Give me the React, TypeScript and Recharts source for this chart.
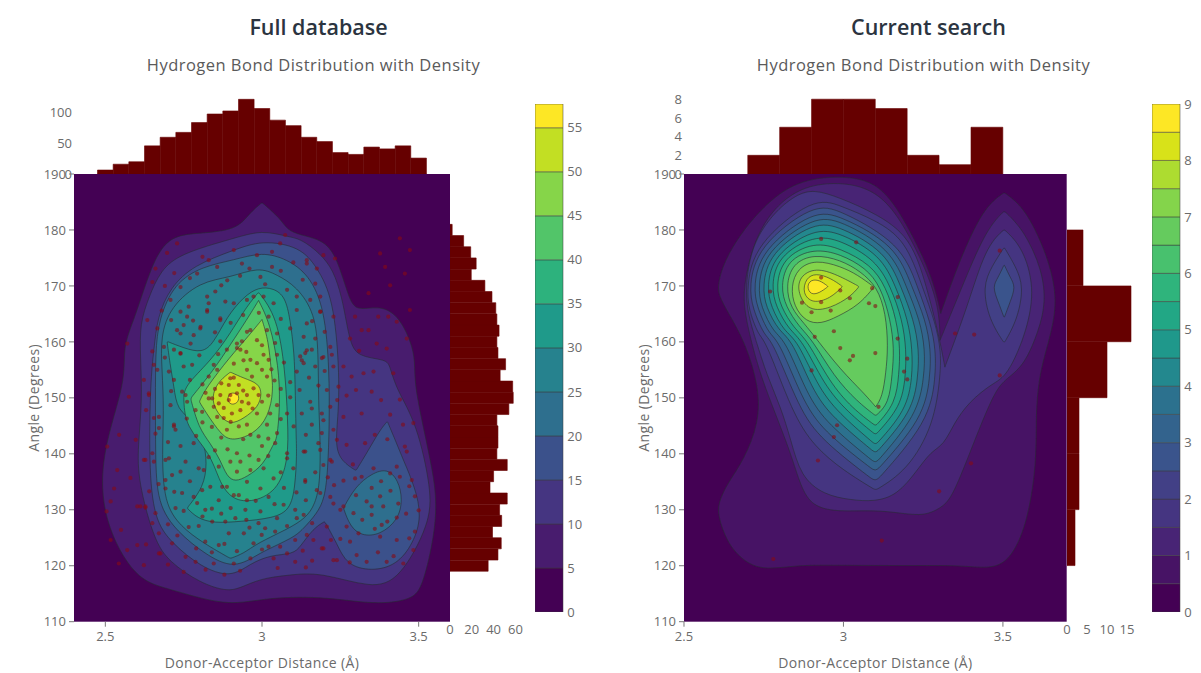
import { Bar, BarChart, CartesianGrid, Scatter, ScatterChart, XAxis, YAxis } from "recharts";

const FONT = '"Open Sans", sans-serif';
const TICK = { fontSize: 13, fill: "#6b6b6b", fontFamily: FONT };
const AXIS_TITLE = { fontSize: 14, letterSpacing: 0.38, fill: "#6b6b6b", fontFamily: FONT };
const HIST = "#660000";
const CONTOUR_LINE = "rgba(40,44,52,0.6)";
const DOT = "rgba(135,10,20,0.6)";

// top histogram, full database
const fullTopBins = [2.5, 2.55, 2.6, 2.65, 2.7, 2.75, 2.8, 2.85, 2.9, 2.95, 3, 3.05, 3.1, 3.15, 3.2, 3.25, 3.3, 3.35, 3.4, 3.45, 3.5];
const fullTopCounts = [6.5, 16, 20, 46, 60, 68, 84, 98, 103, 122, 107, 88, 79, 60, 53, 35, 32, 44, 41, 46, 26];
// right histogram, full database (ascending angle)
const fullSideBins = [120, 122, 124, 126, 128, 130, 132, 134, 136, 138, 140, 142, 144, 146, 148, 150, 152, 154, 156, 158, 160, 162, 164, 166, 168, 170, 172, 174, 176, 178, 180];
const fullSideCounts = [35, 44, 47, 39, 47.4, 45.5, 52.5, 36.7, 40, 52.5, 43, 44, 44, 43, 54, 58, 57.5, 46, 51, 44, 43, 45, 43, 42, 38.5, 32, 19.5, 24, 19, 12.5, 2];
// histograms, current search
const searchTopBins = [2.75, 2.85, 2.95, 3.05, 3.15, 3.25, 3.35, 3.45];
const searchTopCounts = [2, 5, 8, 8, 7, 2, 1, 5];
const searchSideBins = [125, 135, 145, 155, 165, 175];
const searchSideCounts = [2, 3, 3, 10, 16, 4];

// colour bars
const fullBands = [5, 5, 5, 5, 5, 5, 5, 5, 5, 5, 5, 2.7];
const fullColors = ["#440154", "#481c6e", "#453581", "#3b518b", "#2e6f8e", "#26828e", "#1f9a8a", "#2db27d", "#52c569", "#86d549", "#c2df23", "#fde725"];
const searchBands = [0.5, 0.5, 0.5, 0.5, 0.5, 0.5, 0.5, 0.5, 0.5, 0.5, 0.5, 0.5, 0.5, 0.5, 0.5, 0.5, 0.5, 0.5];
const searchColors = ["#440154", "#471365", "#482475", "#453581", "#424086", "#3a548c", "#33638d", "#2c718e", "#23888e", "#1f988b", "#22a785", "#2fb47c", "#48c16e", "#65cb5e", "#84d44b", "#addc30", "#d8e219", "#fde725"];

// density contours, full database (tips are listed twice so the curve reaches them)
const fullL5 = [[3, 184.9], [3, 184.9], [3.058, 182.1], [3.08, 180], [3.122, 179.1], [3.196, 178.2], [3.239, 175.2], [3.276, 168], [3.3, 165.4], [3.377, 166.6], [3.44, 164.5], [3.483, 159], [3.488, 155.6], [3.488, 151.4], [3.541, 138.3], [3.566, 129.4], [3.515, 116.3], [3.48, 113.9], [3.36, 113], [3.186, 114.6], [3, 114.2], [2.888, 112.7], [2.697, 116], [2.596, 117.4], [2.49, 128.2], [2.485, 140], [2.568, 153.2], [2.554, 159], [2.596, 164.5], [2.645, 173.4], [2.7, 179], [2.8, 179.4], [2.92, 180], [2.96, 183]];
const fullL10 = [[3, 180], [3.08, 178.8], [3.122, 178.5], [3.186, 175.8], [3.228, 172.8], [3.255, 168], [3.27, 163.3], [3.281, 160.3], [3.302, 157.3], [3.398, 156.9], [3.408, 155.6], [3.43, 151.4], [3.494, 145.5], [3.541, 133.5], [3.536, 127.6], [3.44, 117.5], [3.35, 115.9], [3.186, 118.9], [3.08, 118.3], [2.995, 117.7], [2.93, 116], [2.888, 115.4], [2.803, 116.9], [2.703, 120.7], [2.655, 124.6], [2.604, 135.3], [2.604, 141.3], [2.618, 149.6], [2.612, 157.3], [2.61, 163.3], [2.639, 168], [2.676, 172.8], [2.74, 175.8], [2.91, 178.5]];
const fullL15 = [[3, 178.2], [3.122, 177], [3.175, 173.4], [3.228, 167.8], [3.247, 155], [3.244, 147.2], [3.233, 141.3], [3.255, 138.6], [3.3, 137], [3.3, 137], [3.334, 140.1], [3.377, 144.3], [3.4, 145.8], [3.4, 145.8], [3.425, 142.5], [3.451, 138.9], [3.488, 134.1], [3.51, 128.8], [3.483, 124], [3.43, 120.1], [3.35, 119], [3.27, 120.1], [3.239, 124], [3.2, 127.9], [3.2, 127.9], [3.164, 126.7], [3.122, 123.4], [3.1, 122.1], [3.027, 121.9], [2.963, 120.4], [2.9, 117.8], [2.804, 119.8], [2.713, 124], [2.655, 128.2], [2.639, 138.3], [2.644, 153.2], [2.655, 158.5], [2.666, 164.5], [2.708, 169.8], [2.782, 173.7], [2.91, 176.4]];
const fullLobe = [[3.26, 130.3], [3.26, 130.3], [3.297, 134.1], [3.35, 136.5], [3.4, 137.4], [3.435, 135.3], [3.449, 131.8], [3.435, 128.2], [3.377, 125.5], [3.318, 125.3], [3.281, 127]];
const fullL20 = [[3, 176.1], [3.08, 174.8], [3.15, 172], [3.2, 166], [3.215, 155], [3.215, 145], [3.21, 137], [3.2, 132], [3.175, 129.3], [3.13, 126.5], [3.1, 125], [3, 122.5], [2.96, 121], [2.9, 119.7], [2.82, 122], [2.73, 126], [2.665, 131], [2.66, 140], [2.66, 150], [2.66, 158], [2.67, 164], [2.72, 170.5], [2.81, 173.5], [2.91, 174.6]];
const fullL25 = [[2.989, 173.4], [3.048, 172], [3.111, 169.9], [3.17, 165.1], [3.18, 158], [3.18, 149], [3.186, 143.1], [3.186, 135], [3.17, 131], [3.14, 128.5], [3.08, 126.5], [2.984, 124], [2.942, 122.2], [2.899, 121.3], [2.899, 121.3], [2.814, 124], [2.74, 127], [2.687, 131.2], [2.681, 140.1], [2.687, 147.8], [2.681, 155], [2.676, 161], [2.708, 166.3], [2.803, 170.8], [2.899, 171.5]];
const fullL30 = [[2.697, 160.1], [2.697, 160.1], [2.75, 158.9], [2.809, 158], [2.846, 159.8], [2.888, 164.5], [2.942, 168.1], [2.989, 169.8], [3.037, 169.6], [3.074, 168.1], [3.09, 164], [3.103, 158], [3.106, 152], [3.109, 142.5], [3.111, 140.1], [3.106, 134.1], [3.09, 130], [3.037, 128.5], [2.931, 127.9], [2.846, 127.6], [2.793, 128.5], [2.761, 130.3], [2.761, 130.3], [2.814, 134.1], [2.825, 138.3], [2.814, 142.5], [2.782, 146], [2.729, 147.8], [2.719, 152], [2.706, 156.2]];
const fullL35 = [[2.989, 168.9], [2.989, 168.9], [3.048, 164.5], [3.074, 155], [3.082, 146.1], [3.085, 138.9], [3.048, 133.2], [2.963, 131.2], [2.899, 132], [2.862, 135.3], [2.835, 140.1], [2.756, 144.9], [2.75, 149.6], [2.75, 152], [2.835, 156.5], [2.899, 161.5], [2.947, 166]];
const fullL40 = [[2.989, 167.4], [2.989, 167.4], [2.989, 167.4], [3.026, 163.3], [3.053, 155.6], [3.058, 149], [3.048, 142.5], [3.037, 141.9], [3.005, 138], [2.952, 135.9], [2.915, 135], [2.888, 135.9], [2.867, 138.9], [2.835, 141.9], [2.798, 144.6], [2.772, 149.9], [2.772, 149.9], [2.846, 155], [2.899, 159.5], [2.952, 164]];
const fullL45 = [[3, 164], [3, 164], [3, 164], [3.021, 160.1], [3.029, 155], [3.037, 151.4], [3.021, 146.6], [2.973, 143.4], [2.899, 142.2], [2.867, 143.7], [2.83, 146.6], [2.8, 149.3], [2.8, 149.3], [2.82, 151.7], [2.899, 157.4], [2.952, 160.7]];
const fullL50 = [[2.899, 154.6], [2.899, 154.6], [2.942, 153.5], [2.989, 152.6], [3, 150.8], [2.989, 148.4], [2.942, 146.3], [2.899, 145.2], [2.867, 146.6], [2.841, 149], [2.846, 151.4], [2.867, 153.2]];
const fullL55 = [[2.905, 151], [2.928, 150.6], [2.925, 149.2], [2.905, 148.7], [2.89, 149.3], [2.892, 150.5]];
const fullContours = [fullL5, fullL10, fullL15, fullLobe, fullL20, fullL25, fullL30, fullL35, fullL40, fullL45, fullL50, fullL55];
const fullContourBands = [1, 2, 3, 4, 4, 5, 6, 7, 8, 9, 10, 11];

// hydrogen bonds, full database (distance, angle)
const fullDots = [
  [2.697, 175.9], [2.729, 177.6], [2.66, 173.1], [2.65, 170.7], [2.708, 167.5], [2.74, 169.8], [2.793, 172.2], [2.83, 174.6], [2.857, 173.4], [2.889, 171], [2.936, 174], [2.984, 175.5], [3.032, 176.1], [3.058, 177.6], [3.074, 179.1], [3.032, 173.4], [2.995, 171.6], [2.973, 168.1], [2.952, 167.5], [3.037, 166.9], [3.08, 169.3], [3.111, 165.7], [3.143, 174], [2.91, 176.4],
  [2.761, 164.5], [2.804, 162.7], [2.825, 165.7], [2.867, 163.9], [2.729, 162.1], [2.666, 162.4], [2.57, 159.7], [2.634, 163.9], [2.687, 159.1], [2.74, 157.9], [2.772, 159.7], [2.825, 168.1], [2.851, 169], [2.91, 166.9], [3.005, 168.1], [3.021, 164.5], [2.963, 162.1], [2.92, 159.7], [3.048, 161.5], [3.111, 168.1], [3.133, 160.9],
  [3.44, 178.5], [3.377, 175.8], [3.472, 176.4], [3.393, 173.4], [3.456, 172.2], [3.409, 170.1], [3.34, 168.7], [3.472, 165.7], [3.371, 164.5], [3.403, 164.5], [3.297, 164.5], [3.318, 162.1], [3.34, 162.1], [3.43, 163.6], [3.462, 160.6], [3.366, 159.7], [3.281, 160.6], [3.398, 158.8], [3.196, 175.5], [3.233, 174.9], [3.175, 173.1], [3.143, 174.6], [3.186, 168.1], [3.228, 164.5], [3.154, 167.5], [3.143, 163.3], [3.186, 165.4], [3.218, 159.1], [3.17, 160.6], [3.143, 158.5], [3.127, 156.7], [3.196, 157.3], [3.228, 155.6], [3.286, 153.8], [3.324, 154.4], [3.356, 154.7], [3.419, 154.4],
  [2.74, 165.4], [2.766, 166.3], [2.825, 165.4], [2.83, 166.9], [2.867, 164.2], [2.883, 167.2], [2.75, 163], [2.782, 161.2], [2.803, 162.4], [2.74, 161.5], [2.867, 160.1], [2.92, 158.9], [2.936, 160.1], [2.952, 161.8], [2.984, 160.3], [3.016, 162.1], [3.042, 159.8], [3.048, 157.7], [3.005, 157.7], [2.963, 156.8], [2.931, 158.6], [2.941, 156.7], [2.888, 158.6], [2.846, 155.9], [2.857, 155], [2.83, 153.8], [2.899, 153.5], [2.894, 152.3], [2.926, 152.3], [2.968, 153.8], [3, 155], [3.016, 153.8], [2.973, 151.7], [2.952, 155], [2.984, 156.2], [3.021, 156.8], [2.867, 150.5], [2.841, 149.9], [2.862, 149], [2.846, 148.4], [2.878, 148.2], [2.899, 150.5], [2.894, 149.6], [2.92, 150.8], [2.936, 149.3], [2.957, 149], [2.952, 150.5], [2.989, 150.5], [3, 149.3], [2.931, 147.8], [2.904, 147.2], [2.878, 146.4], [2.857, 146.6], [2.83, 149.9], [2.809, 147.5], [2.788, 147.8], [2.756, 150.5], [2.745, 151.1], [2.761, 149.3], [3.048, 148.7], [3.026, 147.2], [2.984, 147.2], [2.952, 145.2], [2.926, 144.9], [2.888, 144.3], [3.016, 145.2], [2.989, 143.1], [2.963, 143.4], [3.048, 143.7], [3.08, 147.2], [3.101, 144.9], [3.122, 157.4], [3.138, 158], [3.133, 156.2], [3.159, 158.6], [3.191, 157.1], [3.223, 157.7], [3.207, 151.4], [3.244, 152], [3.218, 148.4], [3.26, 146.6], [3.17, 155.6], [3.111, 154.7], [3.154, 149.3], [3.127, 147.2], [3.191, 147.2], [3.228, 144.3], [3.159, 145.2], [3.186, 165.4], [2.719, 158.6], [2.74, 158], [2.703, 154.7], [2.655, 155.9], [2.666, 155], [2.623, 153.2], [2.639, 150.8], [2.719, 153.2], [2.75, 155.6], [2.777, 155.9], [2.708, 148.7], [2.671, 146.6], [2.655, 146.4], [2.719, 145.2], [2.724, 144.3],
  [2.719, 144.9], [2.782, 141.9], [2.756, 138.6], [2.713, 136.2], [2.703, 139.2], [2.692, 135.3], [2.692, 133.8], [2.745, 133], [2.65, 140.1], [2.623, 138.9], [2.655, 138.6], [2.798, 137.4], [2.814, 137.1], [2.862, 137.7], [2.899, 138.6], [2.92, 136.8], [2.931, 138.6], [2.963, 137.1], [2.989, 138.9], [3.005, 137.4], [3.042, 141.9], [3.08, 140.1], [3.08, 139.2], [3.133, 140.4], [3.138, 135], [3.037, 135.6], [2.952, 135], [2.888, 134.1], [2.926, 132.6], [2.952, 131.7], [2.91, 132.6], [2.995, 133.8], [3.021, 132.3], [2.873, 134.1], [2.835, 134.1], [2.809, 133.5], [2.782, 132.3], [2.793, 131.2], [2.819, 130], [2.862, 131.7], [2.947, 130], [2.995, 129.7], [3.069, 130.9], [3.106, 130], [3.133, 129.1], [2.724, 130.3], [2.671, 125.8], [2.612, 130.6], [2.628, 130.4], [2.841, 127.9], [2.883, 127.9], [2.915, 128.5], [2.989, 127.6], [3.048, 128.5], [3.111, 128.5], [2.798, 127.1], [2.766, 126.9], [2.894, 125.8], [2.862, 123.7], [2.819, 124.3], [2.942, 125.8], [2.999, 125.5], [3.042, 126.1], [3.106, 124.6], [3.143, 125.5], [3.058, 123.4], [3.021, 123.4], [2.973, 124], [2.788, 120.7], [2.846, 120.4], [2.91, 120.4], [2.963, 121.3], [3.037, 121.3], [3.106, 120.7], [2.713, 124], [2.676, 122.2], [2.756, 121.6], [3.191, 123.1], [3.228, 121], [3.207, 127], [3.25, 130], [3.175, 133.5], [3.196, 138], [3.223, 138.6], [3.218, 132.3], [3.191, 143.7],
  [3.159, 148.1], [3.196, 146], [3.138, 140.4], [3.186, 140.7], [3.218, 138.9], [3.239, 142.5], [3.318, 147.2], [3.329, 141.9], [3.409, 147], [3.456, 141.3], [3.483, 145.5], [3.43, 137.7], [3.356, 137.4], [3.318, 135.9], [3.462, 140.4], [3.377, 132.4], [3.334, 131.5], [3.387, 130.6], [3.435, 131.1], [3.488, 132.4], [3.26, 130.6], [3.292, 129.4], [3.35, 129.1], [3.382, 127.3], [3.43, 124.6], [3.488, 126.1], [3.186, 133], [3.138, 135.3], [3.228, 131.1], [3.164, 124.6], [3.196, 123.1], [3.239, 121], [3.302, 121.9], [3.334, 120.7], [3.398, 120.7], [3.451, 120.4], [3.483, 122.8], [3.281, 124.3], [3.409, 136.5], [3.44, 135.9], [3.478, 135.3], [3.297, 135.6], [3.35, 130.6], [3.27, 127], [3.308, 125.8], [3.377, 125.2],
  [2.544, 143.4], [2.506, 141.3], [2.538, 137.1], [2.528, 133.8], [2.517, 131.5], [2.504, 129.7], [2.602, 130.6], [2.628, 130.6], [2.517, 124.6], [2.57, 122.8], [2.602, 123.7], [2.543, 120.4], [2.623, 120.1], [2.671, 122.2], [2.597, 142.5], [2.628, 138.9], [2.692, 138.9], [2.639, 150.5], [2.671, 144.6], [2.575, 150.2],
  [2.72, 172.3], [2.77, 171.4], [2.81, 175.2], [2.87, 170.1], [2.93, 171.8], [2.96, 173.1], [3.01, 170.3], [3.06, 172.7], [3.1, 174.2], [3.13, 171.1], [3.17, 170.4], [2.69, 170], [2.68, 165.6], [2.71, 163.9], [2.78, 163.8], [2.85, 161.7], [2.9, 163.4], [2.94, 164.8], [2.99, 165.2], [3.06, 164.1], [3.09, 162.4], [3.16, 163.7], [3.2, 161.8],
  [2.65, 158.3], [2.69, 157.2], [2.71, 151.2], [2.77, 153.2], [2.8, 157.6], [2.81, 152.4], [2.86, 157.8], [2.91, 156.1], [2.95, 158.2], [3, 159.4], [3.03, 155.1], [3.07, 156.3], [3.09, 152.8], [3.06, 151.6], [3.04, 153.1], [3.02, 150.4], [2.97, 148.1], [2.94, 151.3], [2.91, 153.6], [2.87, 152.6], [2.85, 151.6], [2.82, 150.9], [2.81, 145.6], [2.84, 144.8], [2.87, 142.9], [2.9, 145.7], [2.94, 142.6], [3, 141.4], [3.02, 142.7], [3.06, 146.2], [3.09, 150.1], [3.12, 151.4], [3.15, 153.6], [3.18, 152.2], [3.2, 154.8], [3.24, 149.6], [3.27, 150.4], [3.14, 143.4], [3.18, 141.9],
  [2.63, 147.8], [2.66, 143.6], [2.7, 142.1], [2.74, 141.4], [2.76, 146.3], [2.79, 143.2], [2.74, 136.8], [2.77, 135.1], [2.72, 133.2], [2.67, 134.6], [2.64, 133.3], [2.66, 129.4], [2.7, 127.4], [2.75, 129.8], [2.83, 139.4], [2.85, 140.6], [2.89, 140.8], [2.92, 140.1], [2.96, 139.7], [3.02, 139.6], [3.06, 136.7], [3.1, 137.4], [3.11, 133.1], [3.07, 133.9], [3.04, 131], [2.98, 131.6], [2.9, 130.3], [2.87, 129.3], [2.84, 130.2], [2.81, 128.8], [2.95, 128.2], [3.01, 126.7], [3.08, 127.1], [3.14, 131.7], [3.17, 136.7], [3.21, 135.8], [3.23, 134.4], [3.16, 127.6],
  [2.73, 125.4], [2.79, 123.1], [2.84, 122.4], [2.88, 123.9], [2.92, 122.6], [2.96, 126.8], [3, 122.9], [3.08, 122.2], [3.13, 122.7], [3.16, 120.9], [3.22, 124.6], [2.75, 118.9], [2.82, 119.3], [2.88, 118.4], [2.93, 119.1], [3.05, 119.6], [3.14, 119.7], [2.65, 127.6], [2.63, 123.8], [2.7, 120.2], [2.55, 126.4], [2.58, 135.7],
  [3.27, 141.6], [3.29, 138.1], [3.35, 133.9], [3.38, 135.1], [3.41, 133.4], [3.43, 128.6], [3.46, 129.3], [3.5, 129.9], [3.47, 134.2], [3.4, 127.9], [3.36, 126.6], [3.32, 128.2], [3.3, 132.6], [3.26, 135.2], [3.25, 124.8], [3.28, 120.6], [3.37, 122.4], [3.42, 121.7], [3.47, 124.9], [3.36, 143.4], [3.4, 142.6], [3.38, 149.6], [3.3, 151.4], [3.44, 149.7], [3.45, 145.2], [3.35, 151.1], [3.26, 155.6], [3.31, 158.4],
];

// density contours, current search
const searchL05 = [[2.605, 170.1], [2.626, 174.6], [2.699, 181.2], [2.803, 187.1], [2.897, 189.2], [2.991, 189.6], [3.085, 188.9], [3.158, 185.3], [3.252, 175.2], [3.289, 169.3], [3.305, 165.1], [3.305, 165.1], [3.305, 165.1], [3.368, 175.2], [3.441, 184.1], [3.504, 186.7], [3.504, 186.7], [3.566, 184.1], [3.629, 177], [3.669, 169.3], [3.66, 163.3], [3.629, 157.3], [3.613, 153.2], [3.603, 147.2], [3.606, 138.3], [3.577, 127.6], [3.524, 121], [3.462, 119.4], [3.368, 120.1], [3.211, 120], [2.96, 120.1], [2.855, 120.1], [2.751, 119.2], [2.688, 120.7], [2.636, 124], [2.607, 128.8], [2.607, 131.2], [2.636, 134.7], [2.688, 138.9], [2.735, 145.5], [2.735, 152], [2.693, 159.7], [2.646, 164.5], [2.61, 168.1]];
const searchL10 = [[3, 188.6], [3.096, 187.1], [3.169, 183], [3.252, 174], [3.3, 166.3], [3.303, 160.3], [3.303, 160.3], [3.303, 160.3], [3.368, 169.3], [3.446, 180], [3.504, 183.4], [3.504, 183.4], [3.566, 180], [3.624, 172.8], [3.634, 166.9], [3.613, 162.1], [3.566, 155.6], [3.504, 153.2], [3.472, 150.8], [3.42, 143.7], [3.347, 132.9], [3.315, 130.6], [3.263, 129.1], [3.211, 129.1], [3.106, 130], [2.981, 129.6], [2.902, 130.6], [2.866, 134.1], [2.835, 140.1], [2.782, 147.8], [2.746, 153.2], [2.72, 158], [2.69, 165], [2.685, 169.9], [2.72, 178.2], [2.782, 184.1], [2.876, 188]];
const searchL15 = [[2.991, 185.7], [3.1, 183], [3.211, 178.8], [3.261, 169.9], [3.3, 161], [3.318, 155.5], [3.318, 155.5], [3.318, 155.5], [3.389, 166.3], [3.446, 177], [3.504, 180.1], [3.504, 180.1], [3.561, 177], [3.6, 169.85], [3.577, 162.1], [3.514, 153.8], [3.467, 152.6], [3.394, 149.3], [3.347, 145.5], [3.315, 141.6], [3.274, 140.4], [3.232, 137.1], [3.169, 132.6], [3.096, 131.45], [3.023, 131.75], [2.939, 132.65], [2.866, 135.9], [2.835, 142.5], [2.803, 148.4], [2.76, 154], [2.725, 160.35], [2.7, 165], [2.692, 169.9], [2.713, 177.5], [2.78, 183], [2.85, 186.3], [2.908, 187.3]];
const searchL20 = [[2.991, 184.3], [3.1, 181.8], [3.195, 178.2], [3.247, 169.9], [3.289, 163.3], [3.305, 158.6], [3.305, 154.4], [3.284, 145.15], [3.2, 137], [3.101, 133.5], [3.101, 133.5], [3, 137], [2.908, 141.3], [2.84, 147.25], [2.756, 160.35], [2.735, 160.95], [2.701, 166], [2.698, 169.9], [2.72, 177.3], [2.908, 186]];
const searchRightL20 = [[3.504, 176.9], [3.504, 176.9], [3.465, 173.5], [3.436, 169.85], [3.457, 163.9], [3.504, 159.8], [3.504, 159.8], [3.545, 163.9], [3.566, 169.85], [3.54, 173.5]];
const searchRightL25 = [[3.504, 173.8], [3.504, 173.8], [3.485, 171.5], [3.467, 169.85], [3.485, 167.2], [3.504, 164.3], [3.504, 164.3], [3.523, 167.2], [3.54, 169.85], [3.523, 171.5]];
const searchL25 = [[2.908, 184.8], [2.991, 183.5], [3.18, 177.6], [3.232, 169.9], [3.274, 163.3], [3.289, 158.6], [3.289, 153.8], [3.268, 145.75], [3.101, 135], [3.101, 135], [2.929, 142.5], [2.861, 148.1], [2.777, 160.35], [2.753, 160.95], [2.715, 166], [2.704, 169.9], [2.73, 177]];
const searchL30 = [[2.908, 183.6], [2.991, 182.5], [3.164, 177.3], [3.214, 169.9], [3.258, 163.9], [3.274, 158.6], [3.272, 153.8], [3.251, 146.35], [3.101, 136.8], [3.101, 136.8], [2.95, 143.4], [2.877, 148.7], [2.798, 160.35], [2.767, 161.25], [2.728, 166.3], [2.718, 169.9], [2.741, 176.4]];
const searchL35 = [[2.908, 182.5], [2.991, 181.7], [3.148, 176.7], [3.197, 169.9], [3.24, 163.9], [3.256, 158.6], [3.253, 153.8], [3.232, 146.95], [3.101, 138.3], [3.101, 138.3], [2.965, 144.6], [2.892, 149.6], [2.819, 160.35], [2.782, 161.55], [2.741, 166.3], [2.732, 169.9], [2.753, 176.1]];
const searchL40 = [[2.908, 181.5], [2.991, 180.6], [3.133, 176.1], [3.18, 169.9], [3.221, 163.9], [3.237, 158.6], [3.234, 153.8], [3.216, 147.5], [3.101, 140.1], [3.101, 140.1], [2.981, 145.75], [2.908, 150.5], [2.84, 160.35], [2.798, 161.85], [2.756, 166.3], [2.746, 169.9], [2.767, 175.85]];
const searchL45 = [[2.908, 180.3], [2.991, 179.5], [3.117, 175.5], [3.164, 169.9], [3.203, 163.9], [3.216, 158.6], [3.216, 153.8], [3.198, 147.8], [3.101, 141.6], [3.101, 141.6], [2.997, 146.65], [2.924, 151.4], [2.856, 160.35], [2.814, 161.85], [2.772, 166.3], [2.76, 169.9], [2.78, 175.5]];
const searchL50 = [[2.908, 179.1], [2.991, 178.2], [3.101, 174.65], [3.148, 169.9], [3.185, 163.9], [3.197, 158.6], [3.195, 153.8], [3.18, 148.4], [3.101, 143.4], [3.101, 143.4], [3.012, 147.5], [2.939, 152.3], [2.871, 160.35], [2.83, 162.1], [2.788, 166.3], [2.774, 169.9], [2.793, 175.25]];
const searchL55 = [[2.908, 177.9], [2.991, 176.7], [3.086, 173.8], [3.133, 169.9], [3.167, 163.9], [3.178, 158.6], [3.174, 154.4], [3.164, 149], [3.101, 145], [3.101, 145], [3.028, 148.1], [2.955, 152.9], [2.887, 160.35], [2.845, 162.4], [2.803, 166.3], [2.788, 169.9], [2.809, 175]];
const searchL60 = [[2.908, 176.7], [2.991, 175.7], [3.07, 173.2], [3.117, 169.9], [3.148, 163.9], [3.159, 158.6], [3.153, 154.4], [3.143, 149], [3.101, 146.8], [3.101, 146.8], [3.044, 149.3], [2.97, 153.8], [2.903, 160.35], [2.861, 162.7], [2.819, 166.3], [2.803, 169.9], [2.824, 174.65]];
const searchL65 = [[3.106, 169.8], [3.133, 165.1], [3.14, 159.1], [3.133, 154.4], [3.122, 150.2], [3.101, 148.4], [3.101, 148.4], [3.101, 148.4], [3.065, 150.8], [2.991, 155], [2.918, 160.35], [2.877, 163.3], [2.835, 166], [2.819, 169.9], [2.84, 174.05], [2.908, 175.7], [2.991, 174.65], [3.054, 172.6]];
const searchL70 = [[3.096, 169.8], [3.096, 169.8], [3.049, 166.6], [2.981, 164.5], [2.929, 163.2], [2.882, 163.6], [2.845, 166.3], [2.835, 169.9], [2.856, 173.2], [2.913, 174.7], [2.991, 173.5], [3.044, 172]];
const searchL75 = [[3.049, 169.9], [3.049, 169.9], [3.023, 168.1], [2.96, 166], [2.892, 165.4], [2.856, 168.7], [2.861, 171.7], [2.913, 173.3], [2.981, 172]];
const searchL80 = [[2.997, 169.9], [2.997, 169.9], [2.96, 167.8], [2.903, 166.8], [2.871, 168.7], [2.882, 171.4], [2.913, 172.3], [2.96, 171.4]];
const searchL85 = [[2.952, 169.9], [2.952, 169.9], [2.924, 168.7], [2.897, 168.4], [2.885, 169.9], [2.897, 171.1], [2.924, 171.1]];
const searchContours = [searchL05, searchL10, searchL15, searchL20, searchRightL20, searchRightL25, searchL25, searchL30, searchL35, searchL40, searchL45, searchL50, searchL55, searchL60, searchL65, searchL70, searchL75, searchL80, searchL85];
const searchContourBands = [1, 2, 3, 4, 4, 5, 5, 6, 7, 8, 9, 10, 11, 12, 13, 14, 15, 16, 17];

// hydrogen bonds, current search (distance, angle)
const searchDots = [
  [2.93, 178.4], [3.04, 177.8], [2.77, 169], [2.87, 167], [2.93, 167.1], [2.9, 165.3], [2.96, 165.6], [2.93, 171.5], [2.99, 169.2], [3.02, 167.8], [3.09, 169.6], [3.08, 166.9], [3.1, 166.4], [3.17, 168], [2.91, 160.9], [2.97, 161.9], [2.99, 158.9], [3.03, 157.5], [3.02, 156.7], [3.1, 158], [3.17, 160.6], [3.2, 157], [3.19, 154.7], [3.2, 153.3], [2.9, 154.9], [3.11, 148.4], [2.98, 145.1], [2.97, 143], [2.92, 138.8], [3.12, 124.5], [2.78, 121.2], [3.3, 133.3], [3.4, 138.3], [3.35, 161.5], [3.41, 161.3], [3.49, 176.3], [3.49, 154],
];

const toPoints = (list: number[][]) => list.map(([x, y]) => ({ x, y }));
const noDot = () => <g />;
const redDot = (p: any) => <circle cx={p.cx} cy={p.cy} r={2.1} fill={DOT} />;

function ContourPanel({ left, width, domain, xTicks, contours, bands, colors, dots }: any) {
  return (
    <div style={{ position: "absolute", left, top: 0 }}>
      <ScatterChart width={width} height={673} margin={{ top: 174, right: 20, bottom: 0, left: 0 }}>
        <CartesianGrid horizontal={false} vertical={false} fill={colors[0]} />
        <XAxis
          type="number"
          dataKey="x"
          domain={domain}
          ticks={xTicks}
          allowDataOverflow
          height={51.3}
          tick={TICK}
          axisLine={false}
          tickLine={{ stroke: "#777" }}
          tickSize={5}
          tickMargin={5}
          label={{ value: "Donor-Acceptor Distance (Å)", position: "insideBottom", offset: 5, style: AXIS_TITLE }}
        />
        <YAxis
          type="number"
          dataKey="y"
          domain={[110, 190]}
          ticks={[110, 120, 130, 140, 150, 160, 170, 180, 190]}
          allowDataOverflow
          width={74}
          tick={TICK}
          axisLine={false}
          tickLine={{ stroke: "#777" }}
          tickSize={5}
          tickMargin={3}
          label={{ value: "Angle (Degrees)", angle: -90, position: "insideLeft", offset: 34, style: { ...AXIS_TITLE, textAnchor: "middle" } }}
        />
        {contours.map((c: number[][], i: number) => (
          <Scatter
            key={i}
            data={toPoints(c)}
            line={{ fill: colors[bands[i]], stroke: CONTOUR_LINE, strokeWidth: 1 }}
            lineType="joint"
            lineJointType="basisClosed"
            shape={noDot}
            isAnimationActive={false}
          />
        ))}
        <Scatter data={toPoints(dots)} shape={redDot} isAnimationActive={false} />
      </ScatterChart>
    </div>
  );
}

function TopHist({ left, width, marginRight, domain, bins, counts, yDomain, yTicks, barSize }: any) {
  const data = bins.map((bin: number, i: number) => ({ bin, count: counts[i] }));
  return (
    <div style={{ position: "absolute", left, top: 84 }}>
      <BarChart width={width} height={100} data={data} margin={{ top: 10, right: marginRight, bottom: 10, left: 0 }}>
        <XAxis type="number" dataKey="bin" domain={domain} allowDataOverflow hide />
        <YAxis type="number" domain={yDomain} ticks={yTicks} allowDataOverflow interval={0} width={74} tick={TICK} axisLine={false} tickLine={false} tickSize={0} tickMargin={2} />
        <Bar dataKey="count" fill={HIST} stroke={HIST} strokeWidth={0.6} barSize={barSize} isAnimationActive={false} />
      </BarChart>
    </div>
  );
}

function SideHist({ left, xDomain, xTicks, bins, counts, barSize }: any) {
  const data = bins.map((bin: number, i: number) => ({ bin, count: counts[i] }));
  return (
    <div style={{ position: "absolute", left: left - 12, top: 0 }}>
      <BarChart layout="vertical" width={110} height={645} data={data} margin={{ top: 174, right: 23, bottom: 0, left: 12 }}>
        <XAxis type="number" domain={xDomain} ticks={xTicks} allowDataOverflow interval={0} height={23.3} tick={TICK} axisLine={false} tickLine={false} tickSize={0} tickMargin={3} />
        <YAxis type="number" dataKey="bin" domain={[110, 190]} allowDataOverflow reversed hide />
        <Bar dataKey="count" fill={HIST} stroke={HIST} strokeWidth={0.6} barSize={barSize} isAnimationActive={false} />
      </BarChart>
    </div>
  );
}

function ColorBar({ left, bands, colors, domain, ticks }: any) {
  const row: Record<string, number> = { name: 0 };
  bands.forEach((b: number, i: number) => (row[`band${i}`] = b));
  return (
    <div style={{ position: "absolute", left, top: 94.3 }}>
      <BarChart width={62} height={528} data={[row]} barCategoryGap={0} margin={{ top: 10, right: 0, bottom: 10, left: 0 }}>
        <XAxis dataKey="name" hide />
        <YAxis type="number" orientation="right" domain={domain} ticks={ticks} allowDataOverflow interval={0} width={33.7} tick={{ ...TICK, textAnchor: "start" }} axisLine={false} tickLine={false} tickSize={0} tickMargin={4} />
        {bands.map((_: number, i: number) => (
          <Bar key={i} dataKey={`band${i}`} stackId="bar" fill={colors[i]} stroke="rgba(60,60,60,0.5)" strokeWidth={1} isAnimationActive={false} />
        ))}
      </BarChart>
    </div>
  );
}

function Heading({ center, title }: { center: number; title: string }) {
  return (
    <>
      <div style={{ position: "absolute", left: center - 200, width: 400, top: 12, textAlign: "center", fontFamily: FONT, fontWeight: 600, fontSize: 21.5, lineHeight: "30px", color: "#2b3440" }}>{title}</div>
      <div style={{ position: "absolute", left: center - 255, width: 500, top: 54, textAlign: "center", fontFamily: FONT, fontSize: 16.5, letterSpacing: 0.47, lineHeight: "22px", color: "#5a5a5a" }}>Hydrogen Bond Distribution with Density</div>
    </>
  );
}

export default function App() {
  return (
    <div style={{ position: "absolute", left: 0, top: 0, width: 1201, height: 673, background: "#fff", overflow: "hidden" }}>
      <Heading center={318.5} title="Full database" />
      <Heading center={928.5} title="Current search" />

      <TopHist left={0} width={470} marginRight={20} domain={[2.4, 3.6]} bins={fullTopBins} counts={fullTopCounts} yDomain={[0, 130.7]} yTicks={[0, 50, 100]} barSize={15.6} />
      <TopHist left={610} width={476.7} marginRight={20} domain={[2.5, 3.7]} bins={searchTopBins} counts={searchTopCounts} yDomain={[0, 8.556]} yTicks={[0, 2, 4, 6, 8]} barSize={31.8} />

      <ContourPanel left={0} width={470} domain={[2.4, 3.6]} xTicks={[2.5, 3, 3.5]} contours={fullContours} bands={fullContourBands} colors={fullColors} dots={fullDots} />
      <ContourPanel left={610} width={476.7} domain={[2.5, 3.7]} xTicks={[2.5, 3, 3.5]} contours={searchContours} bands={searchContourBands} colors={searchColors} dots={searchDots} />

      <SideHist left={450} xDomain={[0, 68.8]} xTicks={[0, 20, 40, 60]} bins={fullSideBins} counts={fullSideCounts} barSize={11.1} />
      <SideHist left={1066.7} xDomain={[0, 18.75]} xTicks={[0, 5, 10, 15]} bins={searchSideBins} counts={searchSideCounts} barSize={55.8} />

      <ColorBar left={535} bands={fullBands} colors={fullColors} domain={[0, 57.7]} ticks={[0, 5, 10, 15, 20, 25, 30, 35, 40, 45, 50, 55]} />
      <ColorBar left={1152.3} bands={searchBands} colors={searchColors} domain={[0, 9]} ticks={[0, 1, 2, 3, 4, 5, 6, 7, 8, 9]} />
    </div>
  );
}
